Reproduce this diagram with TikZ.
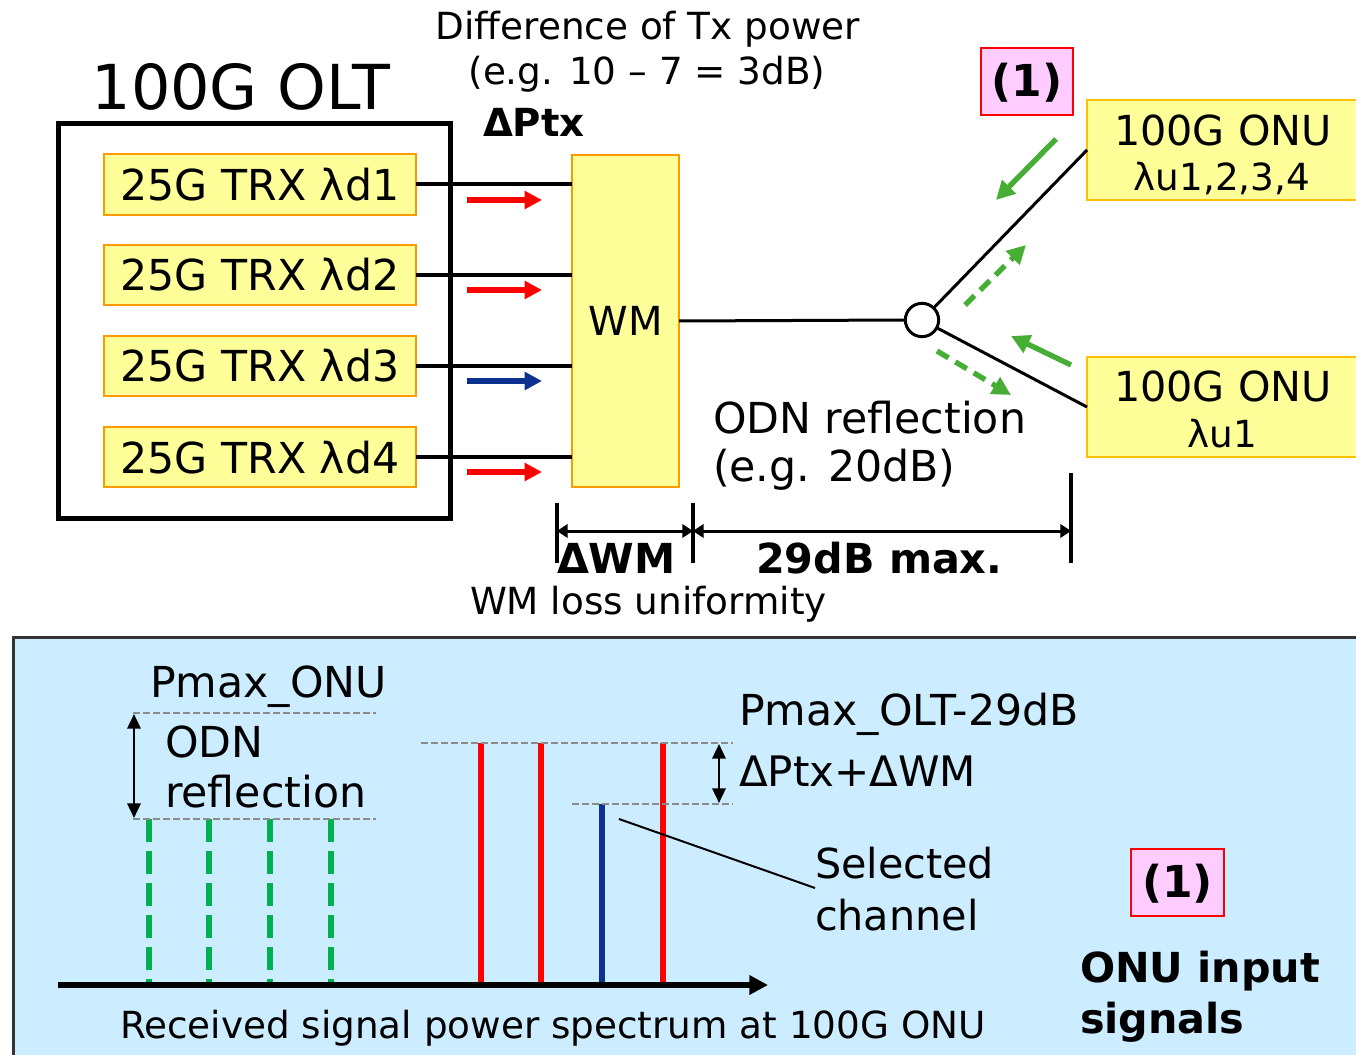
\documentclass[tikz,border=0pt]{standalone}
\usepackage{fontspec}
\setmainfont{DejaVu Sans}
\usetikzlibrary{arrows.meta,fit}
\definecolor{boxyel}{HTML}{FFFF99}
\definecolor{boxorg}{HTML}{FF9900}
\definecolor{onuborder}{HTML}{FFC000}
\definecolor{pinkfill}{HTML}{FFCCFF}
\definecolor{arrblue}{HTML}{0C3190}
\definecolor{specblue}{HTML}{0C3190}
\definecolor{grnarr}{HTML}{47AE35}
\definecolor{grnspec}{HTML}{00B050}
\definecolor{panelfill}{HTML}{CCECFF}
\definecolor{panelborder}{HTML}{333333}
\definecolor{dashgray}{HTML}{8C8C8C}
\newcommand\fsz[1]{\fontsize{#1}{#1}\selectfont}
\begin{document}
\begin{tikzpicture}[x=0.75pt,y=-0.75pt,
  every node/.style={inner sep=0pt, outer sep=0pt},
  trxbox/.style={draw=boxorg, fill=boxyel, line width=1.5pt},
  onubox/.style={draw=onuborder, fill=boxyel, line width=2pt},
  tagbox/.style={draw=red, fill=pinkfill, line width=1.2pt},
  tagtxt/.style={font=\bfseries\fsz{33}},
  txt/.style={font=\fsz{#1}},
  btxt/.style={font=\bfseries\fsz{#1}},
  fibre/.style={line width=3pt},
  thinfibre/.style={line width=2.25pt},
  redarr/.style={line width=4.2pt, red, -{Triangle[length=13pt,width=13pt]}},
  bluearr/.style={line width=4.2pt, arrblue, -{Triangle[length=13pt,width=13pt]}},
  gsolid/.style={line width=4pt, grnarr, -{Triangle[length=14pt,width=14pt]}},
  gdash/.style={line width=4pt, grnarr, dash pattern=on 10pt off 6pt, -{Triangle[length=14pt,width=14pt]}},
  dimbar/.style={line width=3pt},
  dimarr/.style={line width=2.25pt, {Triangle[length=8pt,width=10pt]}-{Triangle[length=8pt,width=10pt]}},
  gline/.style={line width=2.2pt, dashgray, dash pattern=on 5pt off 2.5pt},
  redspec/.style={line width=5pt, red},
  bluespec/.style={line width=5pt, specblue},
  grnspecl/.style={line width=4.5pt, grnspec, dash pattern=on 17pt off 7pt},
  smallarr/.style={line width=1.8pt, {Triangle[length=11pt,width=10pt]}-{Triangle[length=11pt,width=10pt]}},
  axisarr/.style={line width=4.5pt, -{Triangle[length=14pt,width=14pt]}}
]
\useasboundingbox (0,0) rectangle (1356,1055);

% ---------- top part ----------
\node[txt=28, anchor=base] (diff1) at (648,40) {Difference of Tx power};
\node[txt=28, anchor=base] (diff2) at (647,85) {(e.g. 10 – 7 = 3dB)};
\node[btxt=29, anchor=base west] (dptx) at (483,137) {ΔPtx};
\node[txt=46.5, anchor=base] (olt) at (241,110) {100G OLT};
\node[draw, line width=3.75pt, fit={(58,124)(450,518)}] (oltbox) {};

\node[trxbox, fit={(104,154)(416,215)}] (trx1) {};
\node[trxbox, fit={(104,245)(416,305)}] (trx2) {};
\node[trxbox, fit={(104,336)(416,396)}] (trx3) {};
\node[trxbox, fit={(104,427)(416,487)}] (trx4) {};
\foreach \i in {1,...,4}
  \node[txt=32, anchor=base] (trxl\i) at ([yshift=-12pt]trx\i.center) {25G TRX λd\i};

\node[trxbox, fit={(572,155)(679,487)}] (wm) {};
\node[txt=30, anchor=base] (wml) at ([yshift=-11pt]wm.center) {WM};

\foreach \i in {1,...,4}
  \draw[fibre] (trx\i.east) -- (trx\i.east -| wm.west);

\coordinate (ra1s) at (467,200); \coordinate (ra1e) at (542,200);
\coordinate (ra2s) at (467,290); \coordinate (ra2e) at (542,290);
\coordinate (ba3s) at (467,381); \coordinate (ba3e) at (542,381);
\coordinate (ra4s) at (467,472); \coordinate (ra4e) at (542,472);
\draw[redarr] (ra1s) -- (ra1e);
\draw[redarr] (ra2s) -- (ra2e);
\draw[bluearr] (ba3s) -- (ba3e);
\draw[redarr] (ra4s) -- (ra4e);

\node[onubox, fit={(1087,100)(1362,200)}] (onu1) {};
\node[onubox, fit={(1087,357)(1362,457)}] (onu2) {};
\node[txt=31, anchor=base] (onu1a) at (1223,146) {100G ONU};
\node[txt=28, anchor=base] (onu1b) at (1222,191) {λu1,2,3,4};
\node[txt=31, anchor=base] (onu2a) at (1223,402) {100G ONU};
\node[txt=28, anchor=base] (onu2b) at (1222,447) {λu1};

\node[draw, circle, thinfibre, fill=white, minimum size=25pt] (spl) at (922,320) {};
\draw[thinfibre] (wm.east) -- (spl.west);
\draw[thinfibre] (spl) -- (onu1.west);
\draw[thinfibre] (spl) -- (onu2.west);

\node[tagbox, fit={(981,48)(1073,115)}] (tag1) {};
\node[tagtxt, anchor=base] (tag1l) at ([yshift=-11.5pt]tag1.center) {(1)};

\coordinate (g1s) at (1056,139); \coordinate (g1e) at (996,200);
\coordinate (g2s) at (965,305);  \coordinate (g2e) at (1026,245);
\coordinate (g3s) at (1071,365); \coordinate (g3e) at (1011,336);
\coordinate (g4s) at (937,351);  \coordinate (g4e) at (1011,395);
\draw[gsolid] (g1s) -- (g1e);
\draw[gdash] (g2s) -- (g2e);
\draw[gsolid] (g3s) -- (g3e);
\draw[gdash] (g4s) -- (g4e);

\node[txt=32, anchor=base west] (odn1) at (713,433) {ODN reflection};
\node[txt=32, anchor=base west] (odn2) at (713,481) {(e.g. 20dB)};

% dimension lines
\coordinate (b1t) at (557,503); \coordinate (b1b) at (557,563);
\coordinate (b2t) at (693,503); \coordinate (b2b) at (693,563);
\coordinate (b3t) at (1071,473); \coordinate (b3b) at (1071,563);
\draw[dimbar] (b1t) -- (b1b);
\draw[dimbar] (b2t) -- (b2b);
\draw[dimbar] (b3t) -- (b3b);
\coordinate (m1) at (557,531); \coordinate (m2) at (693,531); \coordinate (m3) at (1071,531);
\draw[dimarr] (m1) -- (m2);
\draw[dimarr] (m2) -- (m3);
\node[btxt=31, anchor=base west] (dwm) at (557,573) {ΔWM};
\node[btxt=31, anchor=base west] (max) at (756,573) {29dB max.};
\node[txt=28, anchor=base west] (wmlu) at (470,614) {WM loss uniformity};

% ---------- bottom panel ----------
\node[draw=panelborder, fill=panelfill, line width=2.25pt, fit={(13,637)(1372,1072)}] (panel) {};

\node[txt=32, anchor=base west] (pmonu) at (150,697) {Pmax\_ONU};
\node[txt=32, anchor=base west] (odnr1) at (165,757) {ODN};
\node[txt=32, anchor=base west] (odnr2) at (165,807) {reflection};
\node[txt=32, anchor=base west] (pmolt) at (739,725) {Pmax\_OLT-29dB};
\node[txt=31.5, anchor=base west] (dsum) at (739,786) {ΔPtx+ΔWM};
\node[txt=31, anchor=base west] (sel1) at (815,878) {Selected};
\node[txt=31, anchor=base west] (sel2) at (815,930) {channel};
\node[tagbox, fit={(1131,849)(1224,916)}] (tag2) {};
\node[tagtxt, anchor=base] (tag2l) at ([yshift=-11.5pt]tag2.center) {(1)};
\node[btxt=31, anchor=base west] (oin1) at (1080,982) {ONU input};
\node[btxt=31, anchor=base west] (oin2) at (1080,1033) {signals};
\node[txt=28, anchor=base west] (recv) at (120,1038) {Received signal power spectrum at 100G ONU};

% spectrum lines
\foreach \x [count=\k] in {149,209,270,331} {
  \coordinate (gt\k) at (\x,819); \coordinate (gb\k) at (\x,985);
  \draw[grnspecl] (gt\k) -- (gb\k);
}
\foreach \x [count=\k] in {481,541,663} {
  \coordinate (rt\k) at (\x,743); \coordinate (rb\k) at (\x,985);
  \draw[redspec] (rt\k) -- (rb\k);
}
\coordinate (bt) at (602,804); \coordinate (bb) at (602,985);
\draw[bluespec] (bt) -- (bb);

\coordinate (l1a) at (133,713); \coordinate (l1b) at (376,713);
\coordinate (l2a) at (133,819); \coordinate (l2b) at (376,819);
\coordinate (l3a) at (421,743); \coordinate (l3b) at (733,743);
\coordinate (l4a) at (572,804); \coordinate (l4b) at (733,804);
\draw[gline] (l1a) -- (l1b);
\draw[gline] (l2a) -- (l2b);
\draw[gline] (l3a) -- (l3b);
\draw[gline] (l4a) -- (l4b);

\coordinate (v1a) at (134,714); \coordinate (v1b) at (134,818);
\coordinate (v2a) at (719,744); \coordinate (v2b) at (719,803);
\draw[smallarr] (v1a) -- (v1b);
\draw[smallarr] (v2a) -- (v2b);

\coordinate (lead1) at (619,819); \coordinate (lead2) at (815,888);
\draw[line width=1.5pt] (lead1) -- (lead2);

\coordinate (ax0) at (58,985); \coordinate (ax1) at (768,985);
\draw[axisarr] (ax0) -- (ax1);
\end{tikzpicture}
\end{document}
